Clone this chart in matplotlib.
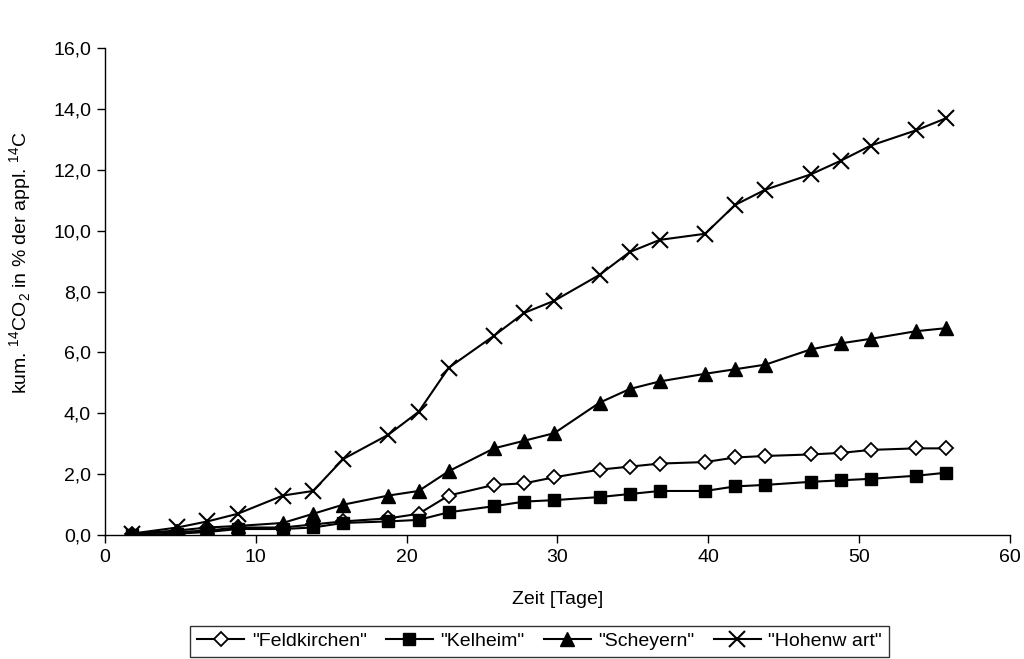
import matplotlib
matplotlib.use("Agg")
import matplotlib.pyplot as plt
from matplotlib.ticker import FuncFormatter

plt.rcParams['font.family'] = ['Liberation Sans', 'DejaVu Sans']
plt.rcParams['mathtext.fontset'] = 'custom'
plt.rcParams['mathtext.rm'] = 'Liberation Sans'

# Probenahmetage
tage = [1.8, 4.8, 6.8, 8.8, 11.8, 13.8, 15.8, 18.8, 20.8, 22.8, 25.8, 27.8,
        29.8, 32.8, 34.8, 36.8, 39.8, 41.8, 43.8, 46.8, 48.8, 50.8, 53.8, 55.8]

# kumulierte 14CO2-Freisetzung in % der applizierten 14C
feldkirchen = [0.05, 0.1, 0.15, 0.25, 0.25, 0.35, 0.45, 0.55, 0.7, 1.3, 1.65, 1.7,
               1.9, 2.15, 2.25, 2.35, 2.4, 2.55, 2.6, 2.65, 2.7, 2.8, 2.85, 2.85]
kelheim = [0.0, 0.05, 0.1, 0.2, 0.2, 0.25, 0.4, 0.45, 0.5, 0.75, 0.95, 1.1,
           1.15, 1.25, 1.35, 1.45, 1.45, 1.6, 1.65, 1.75, 1.8, 1.85, 1.95, 2.05]
scheyern = [0.05, 0.15, 0.25, 0.3, 0.4, 0.7, 1.0, 1.3, 1.45, 2.1, 2.85, 3.1,
            3.35, 4.35, 4.8, 5.05, 5.3, 5.45, 5.6, 6.1, 6.3, 6.45, 6.7, 6.8]
hohenwart = [0.05, 0.25, 0.45, 0.7, 1.3, 1.45, 2.5, 3.3, 4.05, 5.5, 6.55, 7.3,
             7.7, 8.55, 9.3, 9.7, 9.9, 10.85, 11.35, 11.85, 12.3, 12.8, 13.3, 13.7]

fs = 14

fig = plt.figure(figsize=(10.24, 6.59), dpi=100)
ax = fig.add_axes([0.1025, 0.188, 0.8835, 0.739])

lw = 1.5
ax.plot(tage, feldkirchen, color='black', lw=lw, marker='D', markersize=7,
        markerfacecolor='white', markeredgecolor='black', markeredgewidth=1.3,
        label='"Feldkirchen"')
ax.plot(tage, kelheim, color='black', lw=lw, marker='s', markersize=8,
        markerfacecolor='black', label='"Kelheim"')
ax.plot(tage, scheyern, color='black', lw=lw, marker='^', markersize=10,
        markerfacecolor='black', label='"Scheyern"')
ax.plot(tage, hohenwart, color='black', lw=lw, marker='x', markersize=11,
        markeredgewidth=1.5, label='"Hohenw art"')

ax.set_xlim(0, 60)
ax.set_ylim(0, 16)
ax.set_xticks(range(0, 61, 10))
ax.set_yticks(range(0, 17, 2))
ax.yaxis.set_major_formatter(FuncFormatter(lambda v, p: f"{v:.1f}".replace('.', ',')))

for s in ['top', 'right']:
    ax.spines[s].set_visible(False)
for s in ['left', 'bottom']:
    ax.spines[s].set_linewidth(1.0)
ax.tick_params(direction='out', length=6, width=1.0, labelsize=fs, pad=4)

ax.set_xlabel('Zeit [Tage]', fontsize=fs)
ax.xaxis.set_label_coords(0.5, -0.115)
ax.set_ylabel('kum. $^{14}$CO$_2$ in % der appl. $^{14}$C', fontsize=fs)
ax.yaxis.set_label_coords(-0.078, 0.56)

leg = fig.legend(loc='center', bbox_to_anchor=(0.527, 0.027), ncol=4,
                 fontsize=fs, frameon=True, fancybox=False, edgecolor='black',
                 handlelength=2.4, handletextpad=0.4, columnspacing=1.0,
                 borderpad=0.35)
leg.get_frame().set_linewidth(1.0)

fig.savefig('out.png', dpi=100)
